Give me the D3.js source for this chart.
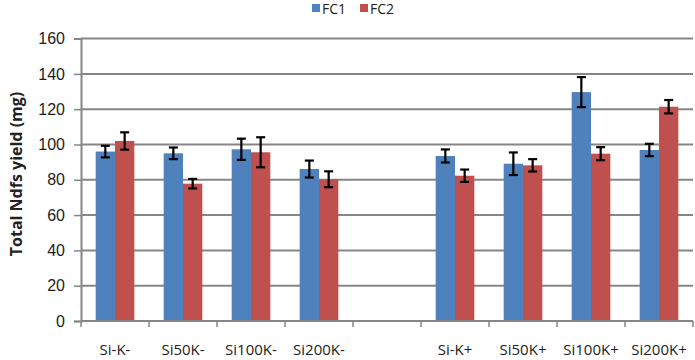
<!DOCTYPE html>
<html>
<head>
<meta charset="utf-8">
<script src="https://cdn.jsdelivr.net/npm/d3@7"></script>
<style>
  body { margin: 0; background: #fff; }
  svg { display: block; font-family: "Open Sans", sans-serif; }
</style>
</head>
<body>
<svg id="chart" width="695" height="360"></svg>
<script>
// chart data
var categories = ["Si-K-", "Si50K-", "Si100K-", "Si200K-", "", "Si-K+", "Si50K+", "Si100K+", "Si200K+"];
var seriesNames = ["FC1", "FC2"];
var fc1 = [96, 95, 97.3, 86.1, null, 93.5, 89.1, 129.7, 96.9];
var fc2 = [102, 77.8, 95.6, 80.3, null, 82.3, 88.2, 94.8, 121.4];
var fc1Err = [3.3, 3.3, 6, 4.8, null, 3.7, 6.4, 8.5, 3.5];
var fc2Err = [4.9, 2.7, 8.5, 4.5, null, 3.5, 3.5, 3.7, 3.8];
var yTicks = [0, 20, 40, 60, 80, 100, 120, 140, 160];
var colors = ["#4f81bd", "#c0504d"];

var svg = d3.select("#chart");
// plot area (note: "top" is a reserved window prop, so use other names)
var plotLeft = 81, plotRight = 693, plotTop = 38.6, plotBottom = 321;

var x = d3.scaleBand()
    .domain(d3.range(categories.length))
    .range([plotLeft, plotRight])
    .paddingInner(0).paddingOuter(0);

var xInner = d3.scaleBand()
    .domain(seriesNames)
    .range([0, x.bandwidth()])
    .paddingInner(0)
    .paddingOuter(0.76);

var y = d3.scaleLinear()
    .domain([0, 160])
    .range([plotBottom, plotTop]);

// gridlines
svg.append("g")
    .selectAll("line")
    .data(yTicks.slice(1))
    .join("line")
    .attr("x1", plotLeft).attr("x2", plotRight)
    .attr("y1", d => y(d)).attr("y2", d => y(d))
    .attr("stroke", "#868686").attr("stroke-width", 2);

// y axis
var yAxis = svg.append("g")
    .attr("transform", "translate(" + plotLeft + ",0)")
    .call(d3.axisLeft(y).tickValues(yTicks).tickSize(7).tickPadding(9));
yAxis.select(".domain").attr("stroke", "#868686").attr("stroke-width", 2);
yAxis.selectAll(".tick line").attr("stroke", "#868686").attr("stroke-width", 1.5);
yAxis.selectAll("text").attr("font-size", 16).attr("fill", "#222");

// bars
var rows = categories.map(function (c, i) {
    return { i: i, vals: [fc1[i], fc2[i]], errs: [fc1Err[i], fc2Err[i]] };
}).filter(r => r.vals[0] != null);

var groups = svg.append("g")
    .selectAll("g")
    .data(rows)
    .join("g")
    .attr("transform", d => "translate(" + x(d.i) + ",0)");

groups.selectAll("rect")
    .data(d => seriesNames.map((s, k) => ({ s: s, k: k, v: d.vals[k], e: d.errs[k] })))
    .join("rect")
    .attr("x", d => xInner(d.s))
    .attr("width", xInner.bandwidth())
    .attr("y", d => y(d.v))
    .attr("height", d => y(0) - y(d.v))
    .attr("fill", d => colors[d.k]);

// error bars
var err = groups.selectAll("g.err")
    .data(d => seriesNames.map((s, k) => ({ s: s, k: k, v: d.vals[k], e: d.errs[k] })))
    .join("g")
    .attr("class", "err")
    .attr("transform", d => "translate(" + (xInner(d.s) + xInner.bandwidth() / 2) + ",0)")
    .attr("stroke", "#000").attr("stroke-width", 2.2);
err.append("line")
    .attr("y1", d => y(d.v + d.e)).attr("y2", d => y(d.v - d.e));
err.append("line")
    .attr("x1", -4.5).attr("x2", 4.5)
    .attr("y1", d => y(d.v + d.e)).attr("y2", d => y(d.v + d.e));
err.append("line")
    .attr("x1", -4.5).attr("x2", 4.5)
    .attr("y1", d => y(d.v - d.e)).attr("y2", d => y(d.v - d.e));

// x axis
svg.append("line")
    .attr("x1", plotLeft).attr("x2", plotRight)
    .attr("y1", y(0)).attr("y2", y(0))
    .attr("stroke", "#868686").attr("stroke-width", 2);
svg.append("g")
    .selectAll("line")
    .data(d3.range(categories.length + 1))
    .join("line")
    .attr("x1", d => plotLeft + d * x.bandwidth()).attr("x2", d => plotLeft + d * x.bandwidth())
    .attr("y1", y(0)).attr("y2", y(0) + 6)
    .attr("stroke", "#868686").attr("stroke-width", 1.5);
svg.append("g")
    .selectAll("text")
    .data(categories)
    .join("text")
    .attr("x", (d, i) => x(i) + x.bandwidth() / 2)
    .attr("y", 355)
    .attr("text-anchor", "middle")
    .attr("font-size", 15)
    .attr("fill", "#222")
    .text(d => d);

// y title
svg.append("text")
    .attr("transform", "translate(22,174) rotate(-90)")
    .attr("text-anchor", "middle")
    .attr("font-size", 16)
    .attr("font-weight", "bold")
    .attr("fill", "#222")
    .text("Total Ndfs yield (mg)");

// legend
var legend = svg.append("g")
    .selectAll("g")
    .data(seriesNames)
    .join("g")
    .attr("transform", (d, i) => "translate(" + (312 + i * 48) + ",4)");
legend.append("rect")
    .attr("width", 8).attr("height", 8)
    .attr("fill", (d, i) => colors[i]);
legend.append("text")
    .attr("x", 10).attr("y", 10)
    .attr("font-size", 14)
    .attr("fill", "#222")
    .text(d => d);
</script>
</body>
</html>
